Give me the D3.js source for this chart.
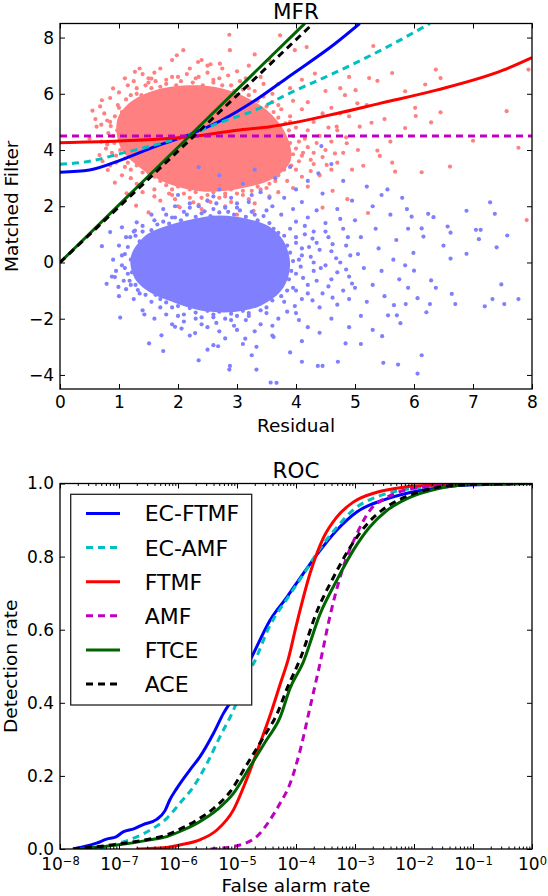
<!DOCTYPE html>
<html>
<head>
<meta charset="utf-8">
<script src="https://cdn.jsdelivr.net/npm/d3@7"></script>
<style>
  body { margin: 0; background: #fff; }
  svg { font-family: "DejaVu Sans", sans-serif; }
</style>
</head>
<body>
<script>
//---- MFR panel: scatter clouds (residual, matched filter) ----
//outline of the dense part of the target (red) cloud
var redCore = [[0.97,5.08],[1.19,5.7],[1.6,6.12],[2.17,6.3],[2.63,6.24],[3.1,5.93],[3.56,5.32],[3.85,4.47],
  [3.91,3.63],[3.62,3.0],[3.08,2.64],[2.46,2.52],[1.87,2.77],[1.35,3.38],[1.02,4.12]];
//ragged edge of the target core
var redFringe = [[0.95,3.55],[0.88,3.9],[1.02,4.0],[0.92,4.25],[0.82,4.6],[0.97,4.7],[0.86,4.85],[0.93,5.2],[1.05,5.35],[0.98,5.6],
  [1.12,5.8],[0.78,4.05],[0.8,5.05],[1.1,3.7],[1.2,3.3],[1.15,3.55],
  [1.2,5.95],[1.3,6.2],[1.38,5.95],[1.45,6.3],[1.55,6.2],[1.62,6.45],[1.7,6.25],[1.25,6.45],[1.5,6.55],
  [1.8,6.35],[1.9,6.6],[1.97,6.3],[2.05,6.45],[2.15,6.7],[2.25,6.4],[2.35,6.6],[2.42,6.3],[2.5,6.75],[2.6,6.4],[2.7,6.55],
  [2.75,6.3],[2.85,6.65],[2.95,6.1],[3.05,6.45],[3.1,6.15],
  [3.2,5.95],[3.3,6.1],[3.35,5.75],[3.45,5.9],[3.5,5.55],[3.6,5.7],[3.62,5.35],[3.7,5.15],[3.75,5.45],[3.82,4.95],[3.9,5.0],
  [3.88,4.7],[3.95,4.5],[3.9,4.25],[4.0,4.05],[3.95,3.85],[4.05,3.6],[3.92,3.45],[4.15,4.4],[4.2,4.1],[4.12,3.9],[4.25,3.65],
  [4.2,4.7],[4.35,4.25],[4.3,3.9],
  [3.8,3.3],[3.7,3.1],[3.65,2.9],[3.55,2.8],[3.45,2.95],[3.35,2.7],[3.25,2.55],[3.5,2.65],
  [3.1,2.55],[3.0,2.45],[2.9,2.6],[2.8,2.45],[2.7,2.3],[2.6,2.5],[2.5,2.4],[2.4,2.3],[2.3,2.5],[2.2,2.6],[2.1,2.45],[2.0,2.7],
  [1.9,2.6],[1.8,2.75],[1.7,2.9],[1.6,3.05],[1.5,3.2],[1.4,3.2],[1.3,3.45],[1.85,2.45],[2.55,2.15],
  [0.7,4.3],[0.68,5.55],[0.72,3.6],[0.6,5.1],[0.85,5.85],[1.0,6.05],[1.1,6.55],[1.35,6.9],[1.6,6.75],[2.4,7.2],[2.75,6.9],
  [3.15,6.55],[3.45,6.35],[3.7,6.35],[3.95,5.75],[4.1,5.45],[4.45,5.3],[4.55,4.8],[4.6,4.3],[4.45,3.75],[4.7,3.55],[4.25,3.25],
  [4.1,3.05],[3.95,2.65],[3.55,2.35],[3.2,2.25],[2.9,2.15],[2.35,2.05],[1.95,2.25],[1.6,2.35],[1.3,2.8],[1.05,3.1],[0.85,3.45],
  [4.85,4.45],[5.05,4.0],[4.95,3.3],[5.2,5.6],[4.75,6.2]];
//scattered target pixels further out
var redPts = [[0.9,4.5],[0.85,5.0],[0.95,3.8],[1.0,5.5],[0.8,4.2],[0.75,5.3],[1.1,3.4],[1.2,3.0],[1.3,6.0],[1.15,6.3],[0.7,4.9],
  [1.5,6.4],[1.8,6.5],[2.0,6.6],[2.3,6.55],[2.6,6.5],[2.9,6.3],[3.2,6.2],[1.7,6.9],[2.2,6.9],[2.5,7.0],[3.0,6.8],[3.4,6.6],[1.4,6.7],[1.9,7.2],
  [3.7,5.6],[3.9,5.2],[4.0,4.8],[4.05,4.3],[4.1,3.8],[4.0,3.3],[4.3,5.0],[4.2,5.7],[4.4,4.5],[4.5,4.0],[4.3,3.5],[3.6,6.0],[3.9,6.2],
  [4.1,6.5],[4.6,5.5],[4.5,6.1],[4.7,4.7],[4.8,3.9],[4.4,3.1],[3.85,2.9],[4.2,2.7],[3.7,2.5],[4.6,3.3],[4.9,5.2],
  [1.6,2.6],[1.9,2.4],[2.2,2.3],[2.5,2.2],[2.8,2.35],[3.1,2.4],[3.4,2.6],[2.0,2.0],[2.4,1.9],[2.8,2.0],[3.3,2.1],[1.7,2.2],
  [3.0,1.7],[2.6,1.6],[1.5,3.0],[1.4,2.5],
  [7.94,6.86],[7.57,5.38],[7.0,4.33],[7.77,4.08],[7.91,1.51],[6.37,6.86],[6.45,6.56],[6.19,6.33],[5.85,6.09],[5.63,6.74],
  [5.31,7.70],[5.24,6.56],[5.38,6.46],[5.85,4.78],[6.02,5.50],[6.03,5.21],[6.29,4.98],[6.45,5.34],[6.13,3.21],[6.61,3.41],
  [5.68,3.23],[5.63,3.55],[5.38,3.98],[5.42,3.79],[5.14,3.44],[5.22,1.76],[5.01,6.13],[5.04,5.66],[5.28,4.97],[4.83,5.95],
  [4.75,5.30],[4.69,4.83],[5.08,4.83],[4.86,4.24],[4.66,3.88],[4.52,3.47],[4.32,6.72],[4.18,7.66],[3.98,7.55],[3.73,8.08],
  [2.87,8.10],[2.09,7.55],[1.98,7.37],[2.34,7.13],[2.88,7.55],[2.55,7.05],[2.71,7.07],[1.27,6.78],[1.55,6.54],[0.90,6.19],
  [0.71,5.77],[0.62,4.83],[0.67,3.82],[0.81,3.29],[0.93,2.84],[1.13,2.46],[2.03,1.96],[1.29,2.02],[1.50,1.78],[2.26,2.14],
  [3.28,1.84],[4.62,2.55],[4.87,2.25],[4.45,1.95],[3.55,7.2],[3.3,7.4],[4.9,6.6],[5.5,5.1],[5.6,4.3],[3.2,7.0],[0.5,4.4],[0.55,5.4]];

//outline of the dense part of the background (blue) cloud
var blueCore = [[1.2,0.2],[1.44,0.94],[1.8,1.3],[2.26,1.55],[2.71,1.67],[3.18,1.55],[3.54,1.29],[3.78,0.8],
  [3.9,-0.05],[3.78,-0.92],[3.42,-1.52],[2.95,-1.76],[2.36,-1.7],[1.9,-1.4],[1.5,-1.03],[1.26,-0.54]];
//ragged edge of the background core
var blueFringe = [[1.15,0.55],[1.2,0.1],[1.1,-0.2],[1.22,-0.35],[1.18,-0.65],[1.28,-0.8],[1.35,0.75],[1.28,0.95],[1.4,1.1],
  [1.32,-0.98],[1.45,-1.15],[1.05,0.25],[1.12,-0.95],
  [1.55,1.15],[1.65,1.35],[1.75,1.45],[1.85,1.38],[1.95,1.6],[2.05,1.5],[2.15,1.7],[2.3,1.62],[2.45,1.82],[2.55,1.65],[2.7,1.78],
  [2.8,1.95],[2.95,1.7],[3.05,1.85],[3.15,1.62],[3.25,1.8],[3.35,1.5],[3.45,1.65],[3.55,1.4],[3.62,1.2],[2.35,2.0],[2.65,2.1],
  [3.0,2.1],[1.8,1.7],[2.2,1.95],
  [3.7,1.05],[3.8,0.95],[3.85,0.6],[3.9,0.35],[3.95,0.05],[3.92,-0.3],[3.88,-0.6],[3.85,-1.0],[3.75,-1.2],[4.0,0.7],[4.1,0.25],
  [4.08,-0.15],[4.12,-0.55],[4.0,-1.0],[4.15,1.0],[4.22,0.55],[4.2,-1.1],[4.3,0.0],
  [3.6,-1.35],[3.5,-1.6],[3.4,-1.7],[3.3,-1.55],[3.2,-1.8],[3.1,-1.72],[3.0,-1.9],[2.9,-1.82],[2.8,-2.0],[2.7,-1.75],[2.6,-1.85],
  [2.5,-1.72],[2.4,-1.95],[2.3,-1.78],[2.2,-1.62],[2.1,-1.85],[2.0,-1.55],[1.9,-1.6],[1.8,-1.42],[1.7,-1.3],[1.62,-1.15],
  [2.65,-2.15],[3.15,-2.05],
  [4.0,1.45],[4.15,1.3],[4.28,0.85],[4.4,0.45],[4.42,-0.2],[4.35,-0.65],[4.28,-1.35],[4.5,1.1],[4.62,0.65],[4.68,0.15],
  [4.7,-0.35],[4.55,-0.85],[4.62,-1.25],[4.75,1.55],[4.88,0.9],[4.92,0.25],[4.85,-0.25],[4.95,-0.75],[4.9,-1.3],[3.98,-1.55],
  [3.85,-1.75],[4.05,-2.05],[3.6,-2.25],[3.3,-2.45],[2.95,-2.25],[2.7,-2.45],[2.4,-2.2],[2.1,-2.1],[1.8,-1.85],[1.6,-2.0],
  [1.25,-1.3],[1.0,-1.2],[0.9,0.1],[0.88,-0.5],[1.05,1.25],[1.55,1.7],[1.95,2.0],[2.6,2.35],[3.25,2.4],[3.55,2.3],[3.75,1.7],
  [3.95,1.9],[4.1,2.15],[4.45,2.45],[4.35,1.85]];
//scattered background pixels further out
var bluePts = [[1.1,0.3],[1.05,-0.1],[1.15,-0.4],[1.0,0.6],[1.12,0.9],[1.2,-0.8],[1.35,-1.1],[1.25,1.1],[1.4,1.3],[0.95,-0.3],[1.08,-0.65],
  [1.6,1.5],[1.9,1.6],[2.1,1.8],[2.4,1.75],[2.6,1.9],[2.85,1.8],[3.0,1.95],[3.3,1.7],[3.5,1.85],[2.2,2.1],[2.5,2.2],[2.9,2.3],
  [3.2,2.15],[3.6,2.0],[1.75,1.9],[2.0,2.4],[2.7,2.6],[3.1,2.8],[3.4,2.5],[3.8,2.3],[4.0,2.6],[3.65,3.0],[4.2,2.9],[2.35,3.39],
  [4.38,3.17],[4.43,4.14],[3.9,3.4],[4.6,3.5],[2.7,3.1],[3.3,3.3],
  [3.9,1.2],[4.0,0.9],[4.1,0.5],[4.05,0.1],[4.0,-0.4],[3.95,-0.9],[4.2,1.6],[4.3,1.1],[4.35,0.7],[4.25,0.2],[4.3,-0.3],[4.2,-0.8],
  [4.1,-1.3],[4.5,1.4],[4.55,0.9],[4.6,0.4],[4.5,-0.1],[4.6,-0.6],[4.45,-1.1],[4.4,-1.6],[4.7,1.9],[4.8,1.2],[4.85,0.6],[4.75,0.0],
  [4.9,-0.5],[4.8,-1.0],[4.7,-1.5],[4.6,-2.0],[4.95,2.2],[5.0,1.5],[5.1,0.9],[5.05,0.3],[5.15,-0.2],[5.0,-0.9],[5.2,-1.4],[5.1,-1.9],
  [4.9,-2.3],[5.3,2.0],[5.35,1.2],[5.4,0.5],[5.45,-0.3],[5.3,-0.8],[5.5,-1.2],[5.6,1.7],[5.7,0.8],[5.65,0.1],[5.75,-0.6],[5.8,2.3],
  [5.55,2.6],[5.2,2.7],[4.8,2.9],[5.9,1.2],[5.85,-0.1],
  [1.7,-1.6],[2.0,-1.9],[2.3,-2.0],[2.6,-1.95],[2.9,-2.05],[3.2,-1.9],[3.5,-1.8],[3.8,-1.4],[1.9,-2.2],[2.5,-2.3],[3.0,-2.4],
  [3.4,-2.2],[3.7,-2.0],[4.0,-1.8],[4.2,-2.3],[2.2,-2.6],[2.8,-2.7],[3.6,-2.6],[4.1,-2.8],[3.9,-3.2],[4.4,-2.5],[1.55,-1.4],
  [1.4,-1.7],[3.1,-2.9],[2.5,-3.1],
  [6.89,1.84],[7.29,2.14],[7.37,1.73],[7.05,1.16],[7.13,1.16],[7.58,0.96],[7.10,0.83],[7.40,0.54],[6.89,0.31],[6.62,0.14],
  [7.48,-0.78],[6.64,-1.12],[6.70,-1.48],[7.33,-1.30],[7.77,-1.30],[7.53,-1.48],[7.20,-1.56],[6.24,1.73],[6.33,1.61],[6.57,1.28],
  [6.62,1.06],[6.29,-0.64],[6.37,-0.90],[6.27,-1.48],[6.21,-1.77],[6.13,-3.30],[6.06,-3.95],[5.73,-3.63],[5.48,-3.57],[5.46,-2.62],
  [5.77,-2.16],[5.88,1.90],[5.96,1.63],[6.13,1.21],[6.16,0.92],[5.99,0.34],[6.00,-0.29],[6.06,-1.27],[5.86,-1.48],[5.66,-1.52],
  [5.56,-1.88],[5.71,-1.88],[4.84,-2.88],[4.71,-3.53],[4.45,-3.68],[4.37,-3.68],[4.10,-3.53],[3.67,-4.28],[3.57,-4.27],[2.88,-3.68],
  [2.87,-3.81],[3.33,-3.81],[3.25,-3.30],[2.35,-3.48],[1.75,-3.15],[1.51,-2.88],[1.72,-2.59],[1.02,-1.96],[0.79,-0.76],[0.71,0.58],
  [0.85,1.08],[0.93,-0.52],[0.99,-0.87],[1.27,1.13],[1.30,1.43],[1.19,0.90],[2.60,-2.94],[2.68,-2.98],[2.06,-2.35],[2.29,-2.51],
  [1.95,-2.29],[1.43,-1.85],[3.62,-2.65],[3.33,-3.00],[3.14,-2.71],[5.3,-2.4],[5.1,-2.9],[5.9,-0.9],[6.5,0.6],[5.45,2.4]];

//---- MFR panel: decision boundaries ----
var mfrEcftmf = [[0,3.21],[0.5,3.29],[1.04,3.65],[1.61,4.12],[2.17,4.53],[2.74,5.06],[3.31,5.77],[3.87,6.6],[4.66,7.78],[5.08,8.5]];
var mfrEcamf = [[0,3.49],[0.5,3.6],[1.04,3.88],[1.61,4.18],[2.17,4.53],[2.74,5.0],[3.31,5.42],[3.87,6.0],[4.66,6.75],[5.54,7.66],[6.27,8.5]];
var mfrFtmf = [[0,4.26],[1,4.32],[2.2,4.47],[3.0,4.7],[3.56,4.83],[4.69,5.3],[5.42,5.66],[6.38,6.13],[7.51,6.84],[8,7.29]];
var mfrAmf = [[0,4.5],[8,4.5]];
var mfrFtce = [[0,0],[1,2.05],[2,4.1],[3,6.15],[4.15,8.5]];
var mfrAce = [[0,0],[1,1.98],[2,3.96],[3,5.94],[4.29,8.5]];

//---- ROC panel: [log10 false alarm rate, detection rate] ----
var rocEcftmf = [[-7.78,0],[-7.6,0.006],[-7.38,0.016],[-7.21,0.027],[-7.05,0.033],[-6.93,0.047],[-6.75,0.055],[-6.59,0.067],
  [-6.36,0.081],[-6.22,0.105],[-6.14,0.134],[-6.02,0.166],[-5.8,0.216],[-5.63,0.252],[-5.4,0.316],[-5.23,0.371],[-5.06,0.416],
  [-4.9,0.475],[-4.72,0.535],[-4.44,0.626],[-4.15,0.69],[-3.88,0.753],[-3.6,0.815],[-3.31,0.872],[-2.97,0.922],[-2.46,0.958],
  [-1.9,0.981],[-1.33,0.993],[-0.77,0.997],[0,1]];
var rocEcamf = [[-7.35,0],[-7.04,0.014],[-6.76,0.029],[-6.47,0.052],[-6.19,0.084],[-5.97,0.125],[-5.74,0.17],[-5.51,0.234],
  [-5.29,0.307],[-5.06,0.38],[-4.84,0.471],[-4.72,0.507],[-4.44,0.612],[-4.15,0.685],[-3.88,0.75],[-3.6,0.82],[-3.31,0.88],
  [-3.0,0.932],[-2.6,0.965],[-2.1,0.985],[-1.5,0.995],[-0.8,0.999],[0,1]];
var rocFtmf = [[-6.7,0],[-6.2,0.004],[-5.97,0.011],[-5.63,0.025],[-5.34,0.052],[-5.06,0.107],[-4.84,0.189],[-4.61,0.289],
  [-4.44,0.365],[-4.27,0.45],[-4.13,0.52],[-3.99,0.615],[-3.76,0.755],[-3.54,0.85],[-3.31,0.908],[-3.03,0.949],[-2.63,0.976],
  [-2.18,0.99],[-1.62,0.996],[-1.0,0.999],[0,1]];
var rocAmf = [[-5.45,0],[-4.95,0.011],[-4.61,0.043],[-4.44,0.08],[-4.27,0.125],[-4.1,0.179],[-3.93,0.27],[-3.76,0.389],
  [-3.59,0.51],[-3.42,0.64],[-3.2,0.771],[-2.97,0.862],[-2.75,0.926],[-2.46,0.962],[-2.07,0.985],[-1.5,0.995],[-0.8,0.999],[0,1]];
var rocFtce = [[-7.75,0],[-7.04,0.011],[-6.47,0.025],[-6.19,0.034],[-5.91,0.052],[-5.63,0.075],[-5.34,0.107],[-5.06,0.152],
  [-4.78,0.225],[-4.5,0.298],[-4.27,0.36],[-4.1,0.44],[-3.88,0.51],[-3.59,0.644],[-3.31,0.735],[-3.03,0.817],[-2.75,0.881],
  [-2.46,0.926],[-2.07,0.962],[-1.62,0.985],[-1.05,0.997],[0,1]];
var rocAce = [[-7.78,0],[-7.08,0.012],[-6.52,0.026],[-6.24,0.036],[-5.96,0.055],[-5.68,0.079],[-5.39,0.112],[-5.11,0.158],
  [-4.83,0.232],[-4.55,0.306],[-4.32,0.37],[-4.15,0.44],[-3.93,0.52],[-3.64,0.652],[-3.36,0.745],[-3.08,0.826],[-2.8,0.888],
  [-2.51,0.931],[-2.12,0.965],[-1.67,0.987],[-1.1,0.997],[0,1]];

//---- names and ticks ----
var seriesNames = ["EC-FTMF", "EC-AMF", "FTMF", "AMF", "FTCE", "ACE"];
var mfrXTicks = [0, 1, 2, 3, 4, 5, 6, 7, 8];
var mfrYTicks = [-4, -2, 0, 2, 4, 6, 8];
var rocXExps = [-8, -7, -6, -5, -4, -3, -2, -1, 0];
var rocYTicks = [0, 0.2, 0.4, 0.6, 0.8, 1.0];

(function () {
    var W = 548, H = 896;
    var tickFont = 17, labelFont = 18.5, titleFont = 21.5, legendFont = 22;

    //line styles per series, same order as seriesNames
    var lineStyle = [
        { color: "#0000ff", dash: null },
        { color: "#00bfbf", dash: "7,5" },
        { color: "#ff0000", dash: null },
        { color: "#bf00bf", dash: "7,5" },
        { color: "#006400", dash: null },
        { color: "#000000", dash: "7,5" }
    ];

    var svg = d3.select("body").append("svg")
        .attr("width", W)
        .attr("height", H);

    //panel frames
    var mfrBox = { l: 60, r: 532, t: 23.5, b: 389 };
    var rocBox = { l: 60, r: 532, t: 483.5, b: 849 };

    drawMfr();
    drawRoc();

    function styleAxis(g, fs) {
        g.select(".domain").remove();
        g.selectAll(".tick line").attr("stroke", "#000").attr("stroke-width", 1);
        g.selectAll(".tick text").attr("font-size", fs).attr("fill", "#000")
            .attr("font-family", "DejaVu Sans");
    }

    function frame(box) {
        svg.append("rect")
            .attr("x", box.l).attr("y", box.t)
            .attr("width", box.r - box.l).attr("height", box.b - box.t)
            .attr("fill", "none").attr("stroke", "#000").attr("stroke-width", 1.3);
    }

    function clip(id, box) {
        svg.append("clipPath").attr("id", id)
            .append("rect")
            .attr("x", box.l).attr("y", box.t)
            .attr("width", box.r - box.l).attr("height", box.b - box.t);
    }

    function drawMfr() {
        var x = d3.scaleLinear().domain([0, 8]).range([mfrBox.l, mfrBox.r]);
        var y = d3.scaleLinear().domain([-4.5, 8.5]).range([mfrBox.b, mfrBox.t]);
        clip("mfrClip", mfrBox);
        var plot = svg.append("g").attr("clip-path", "url(#mfrClip)");

        //dense cores, ragged edges, then scattered pixels: target first, background on top
        var blob = d3.line().x(function (d) { return x(d[0]); }).y(function (d) { return y(d[1]); })
            .curve(d3.curveCatmullRomClosed);
        [[redCore, redFringe, redPts, "#ff8080"], [blueCore, blueFringe, bluePts, "#8080ff"]].forEach(function (c) {
            plot.append("path").datum(c[0]).attr("d", blob).attr("fill", c[3]);
            plot.selectAll(null).data(c[1].concat(c[2])).enter().append("circle")
                .attr("cx", function (d) { return x(d[0]); })
                .attr("cy", function (d) { return y(d[1]); })
                .attr("r", 2.1)
                .attr("fill", c[3]);
        });

        //decision boundaries
        var curves = [mfrEcftmf, mfrEcamf, mfrFtmf, mfrAmf, mfrFtce, mfrAce];
        var line = d3.line().x(function (d) { return x(d[0]); }).y(function (d) { return y(d[1]); })
            .curve(d3.curveMonotoneX);
        curves.forEach(function (c, i) {
            plot.append("path").datum(c)
                .attr("d", line)
                .attr("fill", "none")
                .attr("stroke", lineStyle[i].color)
                .attr("stroke-width", 3)
                .attr("stroke-dasharray", lineStyle[i].dash);
        });

        frame(mfrBox);

        //ticks pointing inwards on all four sides
        var gb = svg.append("g").attr("transform", "translate(0," + mfrBox.b + ")")
            .call(d3.axisBottom(x).tickValues(mfrXTicks).tickSize(-5).tickPadding(7).tickFormat(d3.format("d")));
        styleAxis(gb, tickFont);
        var gt = svg.append("g").attr("transform", "translate(0," + mfrBox.t + ")")
            .call(d3.axisTop(x).tickValues(mfrXTicks).tickSize(-5).tickFormat(""));
        styleAxis(gt, tickFont);
        var gl = svg.append("g").attr("transform", "translate(" + mfrBox.l + ",0)")
            .call(d3.axisLeft(y).tickValues(mfrYTicks).tickSize(-5).tickPadding(6)
                .tickFormat(function (d) { return d < 0 ? "\u2212" + Math.abs(d) : d; }));
        styleAxis(gl, tickFont);
        var gr = svg.append("g").attr("transform", "translate(" + mfrBox.r + ",0)")
            .call(d3.axisRight(y).tickValues(mfrYTicks).tickSize(-5).tickFormat(""));
        styleAxis(gr, tickFont);

        //texts
        svg.append("text").attr("x", (mfrBox.l + mfrBox.r) / 2).attr("y", 18.5)
            .attr("text-anchor", "middle").attr("font-size", titleFont).text("MFR");
        svg.append("text").attr("x", (mfrBox.l + mfrBox.r) / 2).attr("y", 432)
            .attr("text-anchor", "middle").attr("font-size", labelFont).text("Residual");
        svg.append("text")
            .attr("transform", "translate(18," + (mfrBox.t + mfrBox.b) / 2 + ") rotate(-90)")
            .attr("text-anchor", "middle").attr("font-size", labelFont).text("Matched Filter");
    }

    function drawRoc() {
        var x = d3.scaleLog().domain([1e-8, 1]).range([rocBox.l, rocBox.r]);
        var y = d3.scaleLinear().domain([0, 1]).range([rocBox.b, rocBox.t]);
        clip("rocClip", rocBox);
        var plot = svg.append("g").attr("clip-path", "url(#rocClip)");

        var curves = [rocEcftmf, rocEcamf, rocFtmf, rocAmf, rocFtce, rocAce];
        var line = d3.line()
            .x(function (d) { return x(Math.pow(10, d[0])); })
            .y(function (d) { return y(d[1]); })
            .curve(d3.curveMonotoneX);
        curves.forEach(function (c, i) {
            plot.append("path").datum(c)
                .attr("d", line)
                .attr("fill", "none")
                .attr("stroke", lineStyle[i].color)
                .attr("stroke-width", 3)
                .attr("stroke-dasharray", lineStyle[i].dash);
        });

        frame(rocBox);

        var majors = rocXExps.map(function (e) { return Math.pow(10, e); });
        var minors = x.ticks().filter(function (v) {
            return majors.every(function (m) { return Math.abs(v / m - 1) > 1e-6; });
        });

        //minor ticks top and bottom
        [[rocBox.b, d3.axisBottom], [rocBox.t, d3.axisTop]].forEach(function (a) {
            var g = svg.append("g").attr("transform", "translate(0," + a[0] + ")")
                .call(a[1](x).tickValues(minors).tickSize(-2.5).tickFormat(""));
            styleAxis(g, tickFont);
        });

        //major ticks with power labels
        var gb = svg.append("g").attr("transform", "translate(0," + rocBox.b + ")")
            .call(d3.axisBottom(x).tickValues(majors).tickSize(-5).tickPadding(9).tickFormat(""));
        styleAxis(gb, tickFont);
        gb.selectAll(".tick text").each(function (d, i) {
            var t = d3.select(this);
            t.append("tspan").text("10");
            t.append("tspan").attr("dy", -5).attr("font-size", 11.5)
                .text(rocXExps[i] < 0 ? "\u2212" + Math.abs(rocXExps[i]) : rocXExps[i]);
        });
        var gt = svg.append("g").attr("transform", "translate(0," + rocBox.t + ")")
            .call(d3.axisTop(x).tickValues(majors).tickSize(-5).tickFormat(""));
        styleAxis(gt, tickFont);

        var gl = svg.append("g").attr("transform", "translate(" + rocBox.l + ",0)")
            .call(d3.axisLeft(y).tickValues(rocYTicks).tickSize(-5).tickPadding(6).tickFormat(d3.format(".1f")));
        styleAxis(gl, tickFont);
        var gr = svg.append("g").attr("transform", "translate(" + rocBox.r + ",0)")
            .call(d3.axisRight(y).tickValues(rocYTicks).tickSize(-5).tickFormat(""));
        styleAxis(gr, tickFont);

        //texts
        svg.append("text").attr("x", (rocBox.l + rocBox.r) / 2).attr("y", 478)
            .attr("text-anchor", "middle").attr("font-size", titleFont).text("ROC");
        svg.append("text").attr("x", (rocBox.l + rocBox.r) / 2).attr("y", 892)
            .attr("text-anchor", "middle").attr("font-size", labelFont).text("False alarm rate");
        svg.append("text")
            .attr("transform", "translate(17," + (rocBox.t + rocBox.b) / 2 + ") rotate(-90)")
            .attr("text-anchor", "middle").attr("font-size", labelFont).text("Detection rate");

        //legend
        var lg = svg.append("g");
        lg.append("rect")
            .attr("x", 70.7).attr("y", 494.3).attr("width", 181).attr("height", 210.7)
            .attr("fill", "#fff").attr("stroke", "#222").attr("stroke-width", 1.3);
        var rows = lg.selectAll("g.row").data(seriesNames).enter().append("g")
            .attr("class", "row")
            .attr("transform", function (d, i) { return "translate(0," + (513.5 + i * 34.1) + ")"; });
        rows.append("line")
            .attr("x1", 86).attr("x2", 120).attr("y1", 0).attr("y2", 0)
            .attr("stroke", function (d, i) { return lineStyle[i].color; })
            .attr("stroke-width", 3)
            .attr("stroke-dasharray", function (d, i) { return lineStyle[i].dash; });
        rows.append("text")
            .attr("x", 144.7).attr("y", 0.36 * legendFont)
            .attr("font-size", legendFont)
            .text(function (d) { return d; });
    }
})();
</script>
</body>
</html>
